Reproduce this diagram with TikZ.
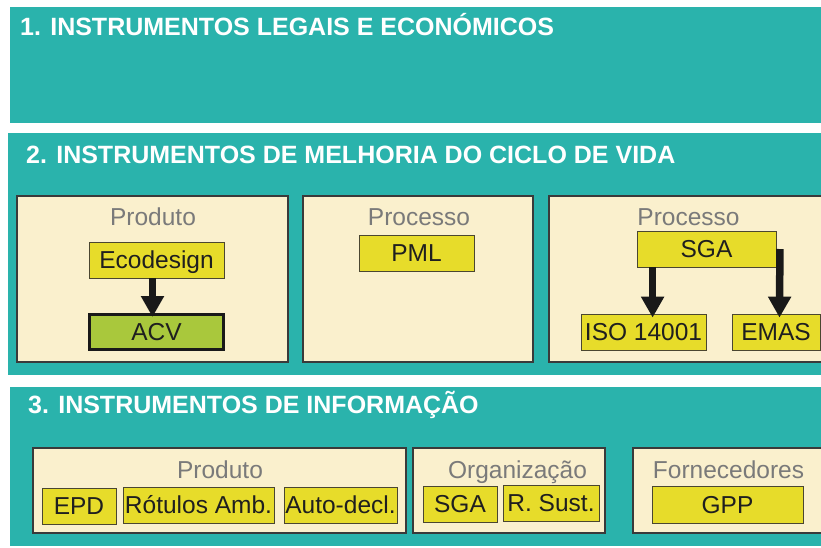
\documentclass[tikz,border=0pt]{standalone}
\usepackage{fontspec}
\setmainfont{Liberation Sans}
\usetikzlibrary{arrows.meta}

\definecolor{bandteal}{HTML}{2AB3AC}
\definecolor{panelcream}{HTML}{FAF0CD}
\definecolor{panelline}{HTML}{3A3A3A}
\definecolor{toolyellow}{HTML}{E7DC2A}
\definecolor{toolline}{HTML}{4A4630}
\definecolor{acvgreen}{HTML}{A9C83C}
\definecolor{captiongray}{HTML}{7A7A7A}

\tikzstyle{band} = [fill=bandteal]
\tikzstyle{title} = [anchor=base west, inner sep=0pt, text=white, font=\fontsize{25}{30}\selectfont\bfseries]
\tikzstyle{panel} = [draw=panelline, fill=panelcream, line width=1.2pt]
\tikzstyle{caption} = [anchor=base, inner sep=0pt, text=captiongray, font=\fontsize{24.5}{29}\selectfont]
\tikzstyle{tool} = [rectangle, draw=toolline, fill=toolyellow, line width=0.8pt, minimum height=36pt, text height=17.5pt, text depth=0pt, inner sep=0pt, text=black!88, font=\fontsize{24.5}{29}\selectfont]
\tikzstyle{arrow} = [line width=7.5pt, draw=black!90, -{Triangle[width=22pt,length=21pt]}, shorten >=-4pt]

\begin{document}
\begin{tikzpicture}[x=1pt, y=-1pt, node distance=72pt]
\useasboundingbox (0,0) rectangle (821,547);
\clip (0,0) rectangle (821,547);

% bands
\fill [band] (10,7) rectangle (821,123);
\fill [band] (8,133) rectangle (821,375);
\fill [band] (10,387) rectangle (821,546);
\node (legais) [title] at (20,35) {1. INSTRUMENTOS LEGAIS E ECONÓMICOS};
\node (ciclo) [title] at (26,163) {2. INSTRUMENTOS DE MELHORIA DO CICLO DE VIDA};
\node (info) [title] at (28,413) {3. INSTRUMENTOS DE INFORMAÇÃO};

% ciclo de vida
\draw [panel] (17,196) rectangle (288,362);
\draw [panel] (303,196) rectangle (533,362);
\draw [panel] (549,196) rectangle (840,362);
\node (produto) [caption] at (153,225) {Produto};
\node (processo) [caption] at (419,225) {Processo};
\node (processob) [caption] at (688.5,225) {Processo};

\node (eco) [tool, minimum width=135pt] at (156.5,260) {Ecodesign};
\node (acv) [tool, below of=eco, minimum width=134pt, minimum height=35pt, fill=acvgreen, draw=black!90, line width=3pt] {ACV};
\node (pml) [tool, minimum width=115pt] at (416.5,253) {PML};
\node (sga) [tool, minimum width=139pt] at (706.5,249) {SGA};
\node (iso) [tool, minimum width=125pt] at (643.5,332) {ISO 14001};
\node (emas) [tool, minimum width=88pt] at (776,332) {EMAS};

\draw [arrow] ([xshift=-4pt]eco.south) -- ([xshift=-4pt]acv.north);
\draw [arrow] ([xshift=16pt]sga.south west) -- ([xshift=16pt]sga.south west |- iso.north);
\draw [arrow] ([xshift=3.5pt]sga.east) -- ([xshift=3.5pt]emas.north);

% informacao
\draw [panel] (33,448) rectangle (406,533);
\draw [panel] (413,448) rectangle (605,533);
\draw [panel] (633,448) rectangle (840,533);
\node (produtoinfo) [caption] at (220,478) {Produto};
\node (organizacao) [caption] at (517.5,478) {Organização};
\node (fornecedores) [caption] at (728.5,478) {Fornecedores};

\node (epd) [tool, minimum width=74pt] at (79,506) {EPD};
\node (rotulos) [tool, minimum width=151pt] at (198.5,505) {Rótulos Amb.};
\node (autodecl) [tool, minimum width=113pt] at (340.5,505) {Auto-decl.};
\node (sgainfo) [tool, minimum width=74pt] at (460,504) {SGA};
\node (rsust) [tool, minimum width=96pt] at (551,503) {R. Sust.};
\node (gpp) [tool, minimum width=151pt, minimum height=37pt] at (727.5,504.5) {GPP};
\end{tikzpicture}
\end{document}
